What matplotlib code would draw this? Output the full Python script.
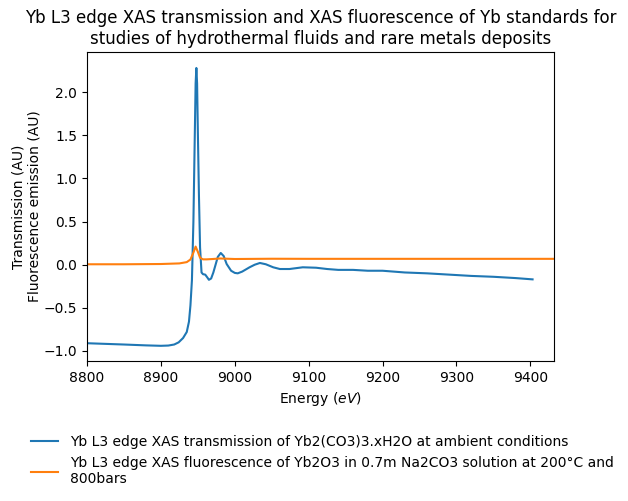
import matplotlib
matplotlib.use("Agg")
import matplotlib.pyplot as plt

# Transmission of Yb2(CO3)3.xH2O
energy_trans = [8800, 8850, 8880, 8900, 8910, 8918, 8924, 8930, 8935, 8938, 8940,
                8942, 8944, 8945.5, 8947, 8948, 8949, 8950, 8951.5, 8953, 8955,
                8957, 8960, 8963, 8965, 8968, 8971, 8974, 8977, 8981, 8985, 8989,
                8995, 9000, 9004, 9010, 9020, 9027, 9034, 9042, 9052, 9061, 9074,
                9092, 9110, 9125, 9140, 9160, 9180, 9200, 9230, 9260, 9290, 9320,
                9350, 9380, 9403]
trans = [-0.910, -0.925, -0.935, -0.940, -0.937, -0.925, -0.900, -0.850, -0.780,
         -0.660, -0.470, -0.180, 0.50, 1.30, 2.10, 2.28, 2.10, 1.55, 0.80, 0.20,
         -0.09, -0.11, -0.115, -0.15, -0.175, -0.16, -0.09, 0.00, 0.09, 0.136,
         0.10, 0.008, -0.07, -0.095, -0.10, -0.08, -0.03, 0.00, 0.02, 0.005,
         -0.03, -0.05, -0.05, -0.03, -0.035, -0.05, -0.06, -0.06, -0.07, -0.07,
         -0.09, -0.10, -0.115, -0.13, -0.14, -0.155, -0.17]

# Fluorescence of Yb2O3 in Na2CO3 solution
energy_fluo = [8800, 8850, 8900, 8925, 8935, 8940, 8944, 8947, 8950, 8953, 8957,
               8962, 8970, 8980, 8990, 9000, 9050, 9100, 9200, 9300, 9440]
fluo = [0.005, 0.005, 0.008, 0.015, 0.03, 0.06, 0.14, 0.21, 0.15, 0.08, 0.062,
        0.062, 0.066, 0.072, 0.069, 0.066, 0.069, 0.068, 0.068, 0.068, 0.068]

label_trans = "Yb L3 edge XAS transmission of Yb2(CO3)3.xH2O at ambient conditions"
label_fluo = "Yb L3 edge XAS fluorescence of Yb2O3 in 0.7m Na2CO3 solution at 200°C and\n800bars"
title = ("Yb L3 edge XAS transmission and XAS fluorescence of Yb standards for\n"
         "studies of hydrothermal fluids and rare metals deposits")

fig = plt.figure(figsize=(6.28, 5.01), dpi=100)
ax = fig.add_axes([87 / 628, 1 - 361 / 501, (554 - 87) / 628, (361 - 52) / 501])
ax.plot(energy_trans, trans, color="#1f77b4", lw=1.5, label=label_trans)
ax.plot(energy_fluo, fluo, color="#ff7f0e", lw=1.5, label=label_fluo)
ax.set_xlim(8800, 9432)
ax.set_ylim(-1.116, 2.465)
ax.set_xticks([8800, 8900, 9000, 9100, 9200, 9300, 9400])
ax.set_yticks([-1.0, -0.5, 0.0, 0.5, 1.0, 1.5, 2.0])
ax.set_xlabel("Energy ($eV$)")
ax.set_ylabel("Transmission (AU)\nFluorescence emission (AU)", labelpad=1.5)
ax.set_title(title)
fig.legend(loc="upper left", bbox_to_anchor=(0.029, 0.157), frameon=False)
fig.savefig("out.png", dpi=100)
